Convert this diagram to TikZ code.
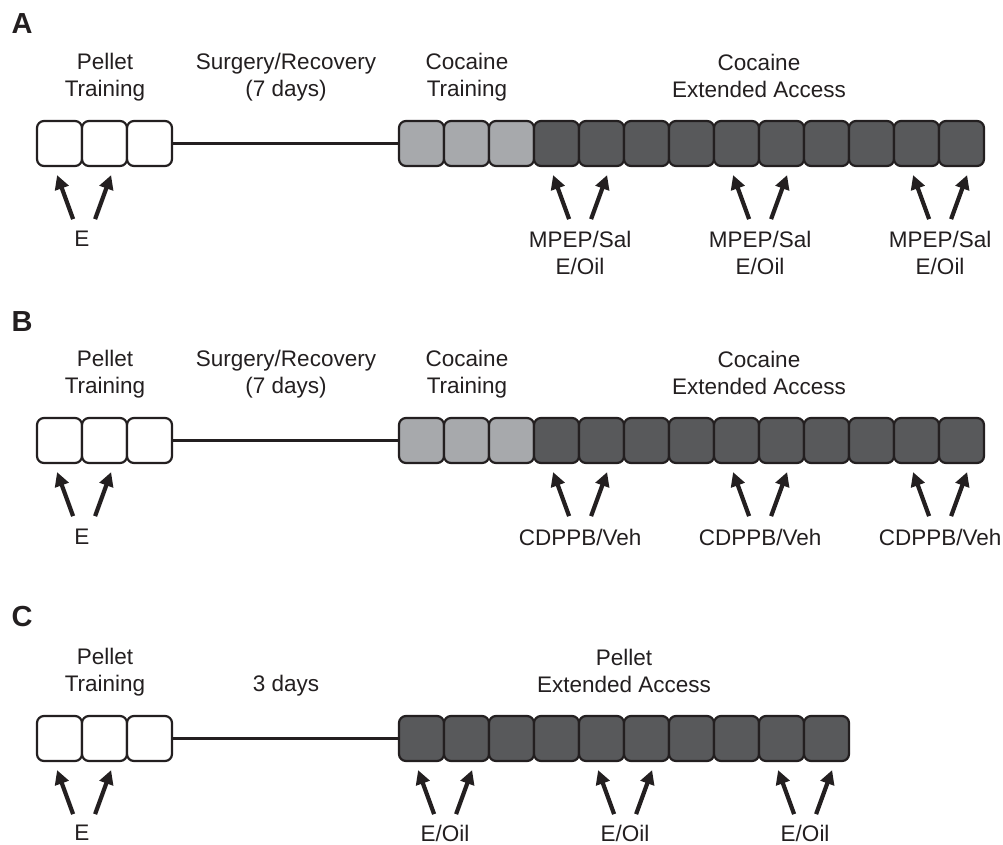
\documentclass[tikz,border=0pt]{standalone}
\usepackage{fontspec}
\setmainfont{Liberation Sans}
\usetikzlibrary{arrows.meta,calc}
\definecolor{ink}{HTML}{231F20}
\definecolor{lightbox}{HTML}{A7A9AC}
\definecolor{darkbox}{HTML}{58595B}
\tikzset{
  day/.style={draw=ink, line width=2.2pt, rounded corners=7pt, minimum width=45pt, minimum height=45pt, inner sep=0pt},
  pelletday/.style={day, fill=white},
  trainday/.style={day, fill=lightbox},
  accessday/.style={day, fill=darkbox},
  gapline/.style={draw=ink, line width=3.4pt},
  dose/.style={draw=ink, line width=4.2pt, -{Triangle[length=14pt,width=14pt]}},
  txt/.style={font=\fontsize{22.5}{27}\selectfont, text=ink, align=center, inner sep=0pt},
  panellabel/.style={font=\bfseries\fontsize{29}{32}\selectfont, text=ink, inner sep=0pt}
}
\begin{document}
\begin{tikzpicture}[x=1pt,y=-1pt]
\useasboundingbox[fill=white] (0,0) rectangle (1003,844);

% ---------------- Panel A (box top 121) ----------------
\node[panellabel] (Alab) at (22,24) {A};
\foreach \i in {0,1,2} \node[pelletday] (Ap\i) at ({59.5+45*\i},143.5) {};
\foreach \i in {0,1,2} \node[trainday] (Ac\i) at ({421.5+45*\i},143.5) {};
\foreach \i in {3,...,12} \node[accessday] (Ac\i) at ({421.5+45*\i},143.5) {};
\draw[gapline] (Ap2.east) -- (Ac0.west);
\node[txt] (Apt) at (105,77.5) {Pellet\\Training};
\node[txt] (Asr) at (286,77.5) {Surgery/Recovery\\(7 days)};
\node[txt] (Act) at (467,77.5) {Cocaine\\Training};
\node[txt] (Aea) at (759,75.5) {Cocaine\\Extended Access};
\node[txt] (AE) at (82,238.5) {E};
\draw[dose] ($(Ap0.south east)+(-10,52)$) -- ($(Ap0.south east)+(-26,8)$);
\draw[dose] ($(Ap0.south east)+(12,52)$) -- ($(Ap0.south east)+(28,8)$);
\foreach \b/\n in {3/1,7/2,11/3}{
  \node[txt] (Ad\n) at ($(Ac\b.south east)+(0,86)$) {MPEP/Sal\\E/Oil};
  \draw[dose] ($(Ac\b.south east)+(-11,52)$) -- ($(Ac\b.south east)+(-27,8)$);
  \draw[dose] ($(Ac\b.south east)+(11,52)$) -- ($(Ac\b.south east)+(27,8)$);
}

% ---------------- Panel B (box top 418) ----------------
\node[panellabel] (Blab) at (22,322) {B};
\foreach \i in {0,1,2} \node[pelletday] (Bp\i) at ({59.5+45*\i},440.5) {};
\foreach \i in {0,1,2} \node[trainday] (Bc\i) at ({421.5+45*\i},440.5) {};
\foreach \i in {3,...,12} \node[accessday] (Bc\i) at ({421.5+45*\i},440.5) {};
\draw[gapline] (Bp2.east) -- (Bc0.west);
\node[txt] (Bpt) at (105,374.5) {Pellet\\Training};
\node[txt] (Bsr) at (286,374.5) {Surgery/Recovery\\(7 days)};
\node[txt] (Bct) at (467,374.5) {Cocaine\\Training};
\node[txt] (Bea) at (759,372.5) {Cocaine\\Extended Access};
\node[txt] (BE) at (82,536.5) {E};
\draw[dose] ($(Bp0.south east)+(-10,52)$) -- ($(Bp0.south east)+(-26,8)$);
\draw[dose] ($(Bp0.south east)+(12,52)$) -- ($(Bp0.south east)+(28,8)$);
\foreach \b/\n in {3/1,7/2,11/3}{
  \node[txt] (Bd\n) at ($(Bc\b.south east)+(0,73)$) {CDPPB/Veh};
  \draw[dose] ($(Bc\b.south east)+(-11,52)$) -- ($(Bc\b.south east)+(-27,8)$);
  \draw[dose] ($(Bc\b.south east)+(11,52)$) -- ($(Bc\b.south east)+(27,8)$);
}

% ---------------- Panel C (box top 716) ----------------
\node[panellabel] (Clab) at (22,617) {C};
\foreach \i in {0,1,2} \node[pelletday] (Cp\i) at ({59.5+45*\i},738.5) {};
\foreach \i in {0,...,9} \node[accessday] (Cc\i) at ({421.5+45*\i},738.5) {};
\draw[gapline] (Cp2.east) -- (Cc0.west);
\node[txt] (Cpt) at (105,672.5) {Pellet\\Training};
\node[txt] (Cgap) at (286,685.5) {3 days};
\node[txt] (Cea) at (624,670.5) {Pellet\\Extended Access};
\node[txt] (CE) at (82,833) {E};
\draw[dose] ($(Cp0.south east)+(-10,52)$) -- ($(Cp0.south east)+(-26,8)$);
\draw[dose] ($(Cp0.south east)+(12,52)$) -- ($(Cp0.south east)+(28,8)$);
\foreach \b/\n in {0/1,4/2,8/3}{
  \node[txt] (Cd\n) at ($(Cc\b.south east)+(0,71)$) {E/Oil};
  \draw[dose] ($(Cc\b.south east)+(-11,52)$) -- ($(Cc\b.south east)+(-27,8)$);
  \draw[dose] ($(Cc\b.south east)+(11,52)$) -- ($(Cc\b.south east)+(27,8)$);
}
\end{tikzpicture}
\end{document}
